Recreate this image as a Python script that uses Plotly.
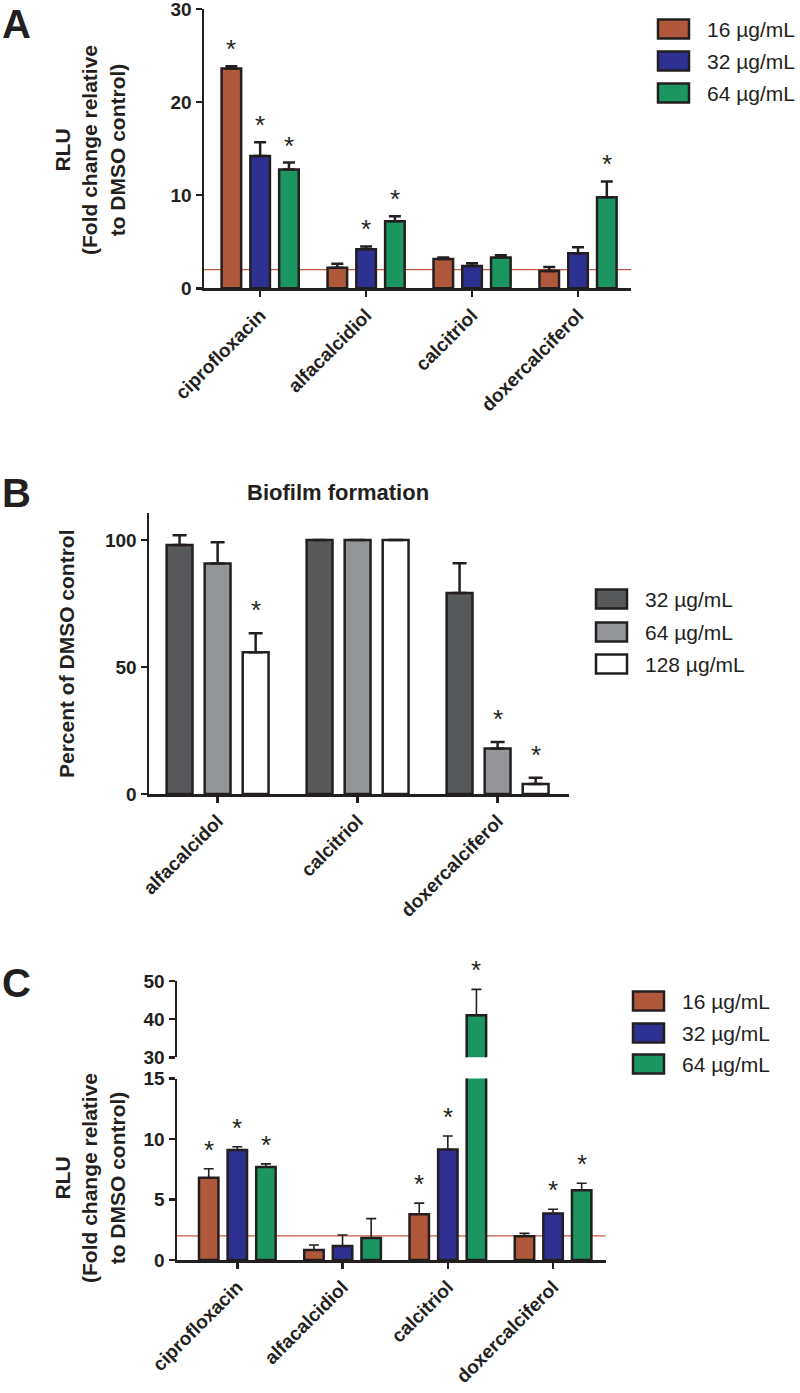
import plotly.graph_objects as go

W, H = 800, 1393

# ---------------- data ----------------
drugs_A = ["ciprofloxacin", "alfacalcidiol", "calcitriol", "doxercalciferol"]
conc_A = ["16 \u00b5g/mL", "32 \u00b5g/mL", "64 \u00b5g/mL"]
A_16 = [23.6, 2.2, 3.15, 1.86]
A_16_sd = [0.25, 0.45, 0.15, 0.43]
A_32 = [14.2, 4.2, 2.4, 3.76]
A_32_sd = [1.5, 0.3, 0.3, 0.64]
A_64 = [12.75, 7.2, 3.3, 9.78]
A_64_sd = [0.75, 0.55, 0.25, 1.7]
A_16_sig = [True, False, False, False]
A_32_sig = [True, True, False, False]
A_64_sig = [True, True, False, True]

drugs_B = ["alfacalcidol", "calcitriol", "doxercalciferol"]
conc_B = ["32 \u00b5g/mL", "64 \u00b5g/mL", "128 \u00b5g/mL"]
B_32 = [98.0, 100.0, 79.1]
B_32_sd = [3.8, 0.0, 11.7]
B_64 = [90.7, 100.0, 17.9]
B_64_sd = [8.4, 0.0, 2.6]
B_128 = [55.8, 100.0, 3.9]
B_128_sd = [7.5, 0.0, 2.5]
B_32_sig = [False, False, False]
B_64_sig = [False, False, True]
B_128_sig = [True, False, True]

drugs_C = ["ciprofloxacin", "alfacalcidiol", "calcitriol", "doxercalciferol"]
conc_C = ["16 \u00b5g/mL", "32 \u00b5g/mL", "64 \u00b5g/mL"]
C_16 = [6.8, 0.83, 3.79, 1.96]
C_16_sd = [0.75, 0.41, 0.91, 0.24]
C_32 = [9.09, 1.16, 9.14, 3.84]
C_32_sd = [0.27, 0.91, 1.11, 0.36]
C_64 = [7.68, 1.82, 41.0, 5.77]
C_64_sd = [0.27, 1.6, 6.8, 0.58]
C_16_sig = [True, False, True, False]
C_32_sig = [True, False, True, True]
C_64_sig = [True, False, True, True]

THRESHOLD = 2.0          # fold-change reference line (panels A and C)
C_BREAK = (15, 30)       # broken y axis in panel C

# ---------------- style ----------------
FONT = "Arial, 'Liberation Sans', Helvetica, sans-serif"
INK = "#231f20"
COL_RLU = ["#B0583B", "#2E3192", "#1C9660"]
COL_BIO = ["#58595B", "#939598", "#FFFFFF"]
RED = "#C4583F"
BARGAP = 0.185
GROUPGAP = 0.32


def px(x):
    return x / W


def py(y):
    return 1 - y / H


fig = go.Figure()
annotations = []
shapes = []


def add_bars(xa, ya, cats, series, sds, colors, names, err_w, err_t):
    for vals, sd, col, nm in zip(series, sds, colors, names):
        fig.add_trace(go.Bar(
            x=cats, y=vals, name=nm, xaxis=xa, yaxis=ya, showlegend=False,
            marker=dict(color=col, line=dict(color=INK, width=2.5)),
            error_y=dict(type="data", array=sd, arrayminus=[0] * len(sd),
                         symmetric=False, color=INK, thickness=err_t, width=err_w),
        ))


def add_stars(xref, yref, series, sds, sigs, yshift, yref_hi=None, split=None):
    step = (1 - BARGAP) / 3
    for i, (vals, sd, sig) in enumerate(zip(series, sds, sigs)):
        for j, (v, s, g) in enumerate(zip(vals, sd, sig)):
            if not g:
                continue
            top = v + s
            yr = yref
            if yref_hi is not None and top > split:
                yr = yref_hi
            annotations.append(dict(
                x=j + (i - 1) * step, y=top, xref=xref, yref=yr, text="*",
                showarrow=False, yanchor="bottom", xanchor="center",
                yshift=yshift, font=dict(family=FONT, size=26, color=INK)))


def add_legend(x0, ys, colors, names):
    for y, c, nm in zip(ys, colors, names):
        shapes.append(dict(type="rect", xref="paper", yref="paper",
                           x0=px(x0), x1=px(x0 + 31), y0=py(y + 9.5), y1=py(y - 9.5),
                           fillcolor=c, line=dict(color=INK, width=2.5)))
        annotations.append(dict(x=px(x0 + 47), y=py(y), xref="paper", yref="paper",
                                text=nm, showarrow=False, xanchor="left", yanchor="middle",
                                font=dict(family=FONT, size=21, color=INK)))


# Panel A
add_bars("x", "y", drugs_A, [A_16, A_32, A_64], [A_16_sd, A_32_sd, A_64_sd],
         COL_RLU, conc_A, 6, 2.5)
add_stars("x", "y", [A_16, A_32, A_64], [A_16_sd, A_32_sd, A_64_sd],
          [A_16_sig, A_32_sig, A_64_sig], 0)
# Panel B
add_bars("x2", "y2", drugs_B, [B_32, B_64, B_128], [B_32_sd, B_64_sd, B_128_sd],
         COL_BIO, conc_B, 7, 2.5)
add_stars("x2", "y2", [B_32, B_64, B_128], [B_32_sd, B_64_sd, B_128_sd],
          [B_32_sig, B_64_sig, B_128_sig], 6)
# Panel C (broken axis: lower part x3/y3, upper part x4/y4)
add_bars("x3", "y3", drugs_C, [C_16, C_32, C_64], [C_16_sd, C_32_sd, C_64_sd],
         COL_RLU, conc_C, 5, 1.6)
add_bars("x4", "y4", drugs_C, [C_16, C_32, C_64], [C_16_sd, C_32_sd, C_64_sd],
         COL_RLU, conc_C, 5, 1.6)
add_stars("x3", "y3", [C_16, C_32, C_64], [C_16_sd, C_32_sd, C_64_sd],
          [C_16_sig, C_32_sig, C_64_sig], 2, yref_hi="y4", split=C_BREAK[0])

# threshold lines
for xr, yr in (("x", "y"), ("x3", "y3")):
    shapes.append(dict(type="line", xref=xr + " domain", yref=yr, x0=0, x1=1,
                       y0=THRESHOLD, y1=THRESHOLD, layer="below",
                       line=dict(color=RED, width=1.3)))

# legends
add_legend(658, [29, 61, 93], COL_RLU, conc_A)
add_legend(596, [599, 632, 664], COL_BIO, conc_B)
add_legend(633, [1001, 1033, 1064], COL_RLU, conc_C)

# panel letters, titles
annotations.append(dict(x=0, y=1, xref="paper", yref="paper", text="A",
                        showarrow=False, xanchor="left", yanchor="top",
                        font=dict(family=FONT, size=40, color=INK, weight="bold")))
for letter, y in (("B", 493), ("C", 983)):
    annotations.append(dict(x=0, y=py(y), xref="paper", yref="paper", text=letter,
                            showarrow=False, xanchor="left", yanchor="middle",
                            font=dict(family=FONT, size=40, color=INK, weight="bold")))
annotations.append(dict(x=px(338), y=py(492), xref="paper", yref="paper",
                        text="Biofilm formation", showarrow=False,
                        xanchor="center", yanchor="middle",
                        font=dict(family=FONT, size=22, color=INK, weight="bold")))
ytitle_rlu = "RLU<br>(Fold change relative<br>to DMSO control)"
for yc in (150, 1178):
    annotations.append(dict(x=px(90), y=py(yc), xref="paper", yref="paper",
                            text=ytitle_rlu, textangle=-90, showarrow=False,
                            xanchor="center", yanchor="middle",
                            font=dict(family=FONT, size=21, color=INK, weight="bold")))
annotations.append(dict(x=px(66), y=py(654), xref="paper", yref="paper",
                        text="Percent of DMSO control", textangle=-90, showarrow=False,
                        xanchor="center", yanchor="middle",
                        font=dict(family=FONT, size=21, color=INK, weight="bold")))

tickfont = dict(family=FONT, size=19, color=INK, weight="bold")
axis_common = dict(showline=True, linecolor=INK, linewidth=2.5, ticks="outside",
                   ticklen=6, tickwidth=2.5, tickcolor=INK, showgrid=False,
                   zeroline=False, tickfont=tickfont, fixedrange=True,
                   automargin=False, ticklabeloverflow="allow")

fig.update_layout(
    width=W, height=H, margin=dict(l=0, r=0, t=0, b=0, autoexpand=False),
    paper_bgcolor="white", plot_bgcolor="white",
    barmode="group", bargap=BARGAP, bargroupgap=GROUPGAP,
    showlegend=False,
    xaxis=dict(domain=[px(204), px(631)], range=[-0.53, 3.5], anchor="y",
               tickangle=-45, **axis_common),
    yaxis=dict(domain=[py(288.3), py(9)], range=[0, 30], anchor="x",
               tickvals=[0, 10, 20, 30], **axis_common),
    xaxis2=dict(domain=[px(149), px(569)], range=[-0.49, 2.51], anchor="y2",
                tickangle=-45, **axis_common),
    yaxis2=dict(domain=[py(794), py(513)], range=[0, 110.6], anchor="x2",
                tickvals=[0, 50, 100], **axis_common),
    xaxis3=dict(domain=[px(177), px(605.7)], range=[-0.573, 3.5], anchor="y3",
                tickangle=-45, **axis_common),
    yaxis3=dict(domain=[py(1260), py(1078.6)], range=[0, C_BREAK[0]], anchor="x3",
                tickvals=[0, 5, 10, 15], **axis_common),
    xaxis4=dict(domain=[px(177), px(605.7)], range=[-0.573, 3.5], anchor="y4",
                matches="x3", visible=False, automargin=False),
    yaxis4=dict(domain=[py(1057.3), py(981)], range=[C_BREAK[1], 50], anchor="x4",
                tickvals=[30, 40, 50], **axis_common),
    annotations=annotations, shapes=shapes,
)

fig.write_html("out.html",
               config={"displayModeBar": False, "staticPlot": True},
               post_script="document.body.style.margin='0px';"
                           "document.body.style.padding='0px';")
